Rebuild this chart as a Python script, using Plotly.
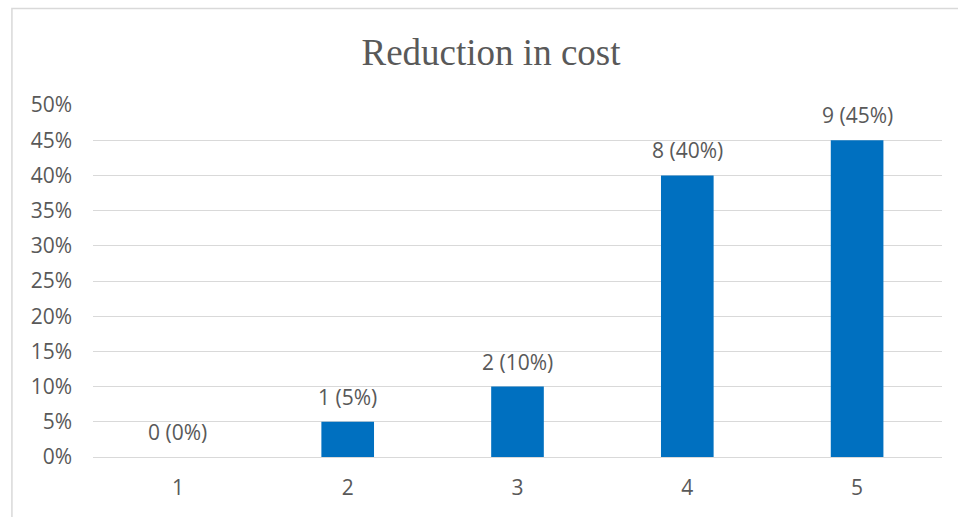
import plotly.graph_objects as go

categories = [1, 2, 3, 4, 5]
counts = [0, 1, 2, 8, 9]
percents = [0, 5, 10, 40, 45]
tick_vals = [0, 5, 10, 15, 20, 25, 30, 35, 40, 45, 50]
tick_text = [f"{v}%" for v in tick_vals]

labels = [f"{c} ({p}%)" for c, p in zip(counts, percents)]

fig = go.Figure()
fig.add_trace(go.Bar(
    x=categories, y=percents,
    marker=dict(color="#0070C0", line=dict(width=0)),
    hoverinfo="skip",
))

for cat, p, lab in zip(categories, percents, labels):
    fig.add_annotation(x=cat, y=p, xref="x", yref="y", text=lab, showarrow=False,
                       yanchor="middle", yshift=25,
                       font=dict(family="Open Sans", size=21, color="#595959"))

fig.add_shape(type="rect", xref="paper", yref="paper",
              x0=-0.0955, x1=1.2, y0=-0.5, y1=1.2738,
              line=dict(color="#d9d9d9", width=1.5), layer="below")

fig.update_layout(
    width=958, height=517,
    margin=dict(l=93, r=16, t=105, b=60),
    paper_bgcolor="white", plot_bgcolor="white",
    bargap=0.69,
    showlegend=False,
    title=dict(text="Reduction in cost", x=491/958, xanchor="center",
               xref="container", yref="container",
               y=(517-52)/517, yanchor="middle",
               font=dict(family="Liberation Serif", size=37, color="#595959")),
    font=dict(family="Open Sans", size=21, color="#595959"),
    xaxis=dict(type="linear", range=[0.5, 5.5], tickvals=categories,
               ticktext=[str(c) for c in categories],
               showgrid=False, showline=False, zeroline=False,
               ticks="", ticklabelstandoff=16,
               tickfont=dict(family="Open Sans", size=21, color="#595959")),
    yaxis=dict(range=[0, 50], tickvals=tick_vals, ticktext=tick_text,
               showgrid=True, gridcolor="#d9d9d9", gridwidth=1.3,
               zeroline=True, zerolinecolor="#d9d9d9", zerolinewidth=1.3,
               showline=False, ticks="", ticklabelstandoff=20,
               tickfont=dict(family="Open Sans", size=21, color="#595959")),
)

fig.write_html("out.html")
